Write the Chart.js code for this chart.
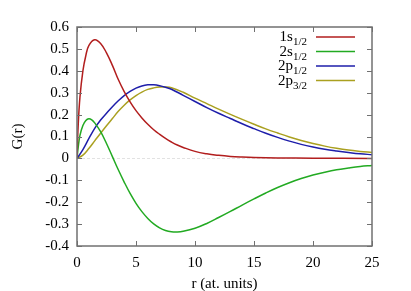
<!DOCTYPE html>
<html>
<head>
<meta charset="utf-8">
<script src="https://cdn.jsdelivr.net/npm/chart.js@4/dist/chart.umd.min.js"></script>
<style>
    html, body { margin: 0; padding: 0; background: #fff; }
    canvas { display: block; }
</style>
</head>
<body>
<canvas id="chart" width="411" height="291"></canvas>
<script>
// Radial functions G(r)

const r1s = [0, 0.1, 0.25, 0.5, 0.75, 1.0, 1.5, 2.0, 2.5, 3.0, 3.5, 4.0, 4.5, 5.0, 5.5, 6.0, 6.5, 7.0, 7.5, 8.0, 8.5, 9.0, 10, 11, 12, 13, 14, 15, 17, 20, 25];
const g1s = [0, 0.15, 0.28, 0.40, 0.47, 0.515, 0.542, 0.525, 0.482, 0.425, 0.36, 0.305, 0.258, 0.218, 0.185, 0.156, 0.131, 0.11, 0.091, 0.075, 0.061, 0.05, 0.032, 0.021, 0.014, 0.009, 0.006, 0.004, 0.002, 0.001, 0];

const r2s = [0, 0.1, 0.25, 0.5, 0.75, 1.0, 1.25, 1.5, 2.0, 2.5, 3.0, 3.5, 4.0, 4.5, 5.0, 5.5, 6.0, 6.5, 7.0, 7.5, 8.0, 8.5, 9.0, 10, 11, 12, 13, 14, 15, 16, 17, 18, 19, 20, 21, 22, 23, 24, 25];
const g2s = [0, 0.05, 0.105, 0.15, 0.173, 0.181, 0.176, 0.162, 0.122, 0.068, 0.008, -0.052, -0.108, -0.16, -0.205, -0.243, -0.274, -0.299, -0.317, -0.329, -0.335, -0.336, -0.333, -0.319, -0.297, -0.27, -0.242, -0.213, -0.185, -0.158, -0.133, -0.111, -0.092, -0.076, -0.063, -0.052, -0.044, -0.037, -0.032];

const rP = [0, 0.5, 1.0, 1.5, 2.0, 2.5, 3.0, 3.5, 4.0, 4.5, 5.0, 5.5, 6.0, 6.5, 7.0, 7.5, 8.0, 9, 10, 11, 12, 13, 14, 15, 16, 17, 18, 19, 20, 21, 22, 23, 24, 25];
const g2p1 = [0, 0.04, 0.09, 0.137, 0.175, 0.206, 0.236, 0.263, 0.287, 0.306, 0.321, 0.331, 0.336, 0.336, 0.332, 0.325, 0.316, 0.288, 0.26, 0.232, 0.206, 0.182, 0.158, 0.136, 0.115, 0.096, 0.079, 0.064, 0.052, 0.042, 0.034, 0.027, 0.021, 0.017];
const g2p3 = [0, 0.015, 0.045, 0.08, 0.115, 0.149, 0.182, 0.215, 0.243, 0.267, 0.287, 0.303, 0.315, 0.322, 0.326, 0.326, 0.323, 0.302, 0.275, 0.25, 0.225, 0.201, 0.178, 0.156, 0.135, 0.116, 0.098, 0.082, 0.068, 0.056, 0.046, 0.038, 0.032, 0.027];

const labelMain = ['1s', '2s', '2p', '2p'];
const labelSub = ['1/2', '1/2', '1/2', '3/2'];
const colors = ['#b21e1e', '#22aa22', '#1e1eaa', '#aaa020'];

const FONT = "'Liberation Serif', 'Times New Roman', serif";

function pts(xs, ys) {
    return xs.map((x, i) => ({ x, y: ys[i] }));
}

const series = [pts(r1s, g1s), pts(r2s, g2s), pts(rP, g2p1), pts(rP, g2p3)];

// gnuplot-like frame, inward ticks on all sides, zero line and legend with subscripts
const gnuplotFrame = {
    id: 'gnuplotFrame',
    beforeDatasetsDraw(chart) {
        const { ctx, chartArea: a, scales } = chart;
        const y0 = Math.round(scales.y.getPixelForValue(0)) + 0.5;
        ctx.save();
        ctx.strokeStyle = '#e2e2e2';
        ctx.lineWidth = 1;
        ctx.setLineDash([3, 2]);
        ctx.beginPath();
        ctx.moveTo(a.left, y0);
        ctx.lineTo(a.right, y0);
        ctx.stroke();
        ctx.restore();
    },
    afterDraw(chart) {
        const { ctx, chartArea: a, scales } = chart;
        ctx.save();
        ctx.strokeStyle = '#707070';
        ctx.lineWidth = 1.5;
        ctx.strokeRect(a.left, a.top, a.right - a.left, a.bottom - a.top);

        ctx.lineWidth = 1;
        const len = 5;
        ctx.beginPath();
        scales.x.ticks.forEach(t => {
            const px = Math.round(scales.x.getPixelForValue(t.value)) + 0.5;
            ctx.moveTo(px, a.bottom); ctx.lineTo(px, a.bottom - len);
            ctx.moveTo(px, a.top); ctx.lineTo(px, a.top + len);
        });
        scales.y.ticks.forEach(t => {
            const py = Math.round(scales.y.getPixelForValue(t.value)) + 0.5;
            ctx.moveTo(a.left, py); ctx.lineTo(a.left + len, py);
            ctx.moveTo(a.right, py); ctx.lineTo(a.right - len, py);
        });
        ctx.stroke();

        // legend
        const textRight = 307, lineX1 = 316, lineX2 = 355;
        const rowY = [37, 51.5, 66, 80.5];
        chart.data.datasets.forEach((ds, i) => {
            const y = rowY[i];
            ctx.font = '15px ' + FONT;
            const wMain = ctx.measureText(labelMain[i]).width;
            ctx.font = '11px ' + FONT;
            const wSub = ctx.measureText(labelSub[i]).width;
            ctx.fillStyle = '#000';
            ctx.textBaseline = 'alphabetic';
            ctx.textAlign = 'left';
            ctx.font = '15px ' + FONT;
            ctx.fillText(labelMain[i], textRight - wSub - wMain, y + 4);
            ctx.font = '11px ' + FONT;
            ctx.fillText(labelSub[i], textRight - wSub, y + 8);

            ctx.strokeStyle = ds.borderColor;
            ctx.lineWidth = 1.5;
            ctx.beginPath();
            ctx.moveTo(lineX1, y);
            ctx.lineTo(lineX2, y);
            ctx.stroke();
        });
        ctx.restore();
    }
};

new Chart(document.getElementById('chart'), {
    type: 'line',
    data: {
        datasets: series.map((d, i) => ({
            label: labelMain[i] + labelSub[i],
            data: d,
            borderColor: colors[i],
            borderWidth: 1.5,
            pointRadius: 0,
            fill: false,
            tension: 0.4
        }))
    },
    options: {
        responsive: false,
        animation: false,
        layout: { padding: { top: 27, right: 39, left: 0, bottom: 0 } },
        plugins: {
            legend: { display: false },
            tooltip: { enabled: false }
        },
        scales: {
            x: {
                type: 'linear',
                min: 0,
                max: 25,
                grid: { display: false, drawTicks: false },
                border: { display: false },
                ticks: {
                    stepSize: 5,
                    padding: 8,
                    color: '#000',
                    font: { family: FONT, size: 15 },
                    maxRotation: 0
                },
                title: {
                    display: true,
                    text: 'r (at. units)',
                    color: '#000',
                    font: { family: FONT, size: 15 },
                    padding: { top: 0, bottom: -2 }
                },
                afterFit(scale) { scale.height = 45; }
            },
            y: {
                min: -0.4,
                max: 0.6,
                grid: { display: false, drawTicks: false },
                border: { display: false },
                ticks: {
                    stepSize: 0.1,
                    padding: 8,
                    color: '#000',
                    font: { family: FONT, size: 15 },
                    callback: v => String(Number(v.toFixed(1)))
                },
                title: {
                    display: true,
                    text: 'G(r)',
                    color: '#000',
                    font: { family: FONT, size: 15 },
                    padding: { top: 9, bottom: 0 }
                },
                afterFit(scale) { scale.width = 77; }
            }
        }
    },
    plugins: [gnuplotFrame]
});
</script>
</body>
</html>
